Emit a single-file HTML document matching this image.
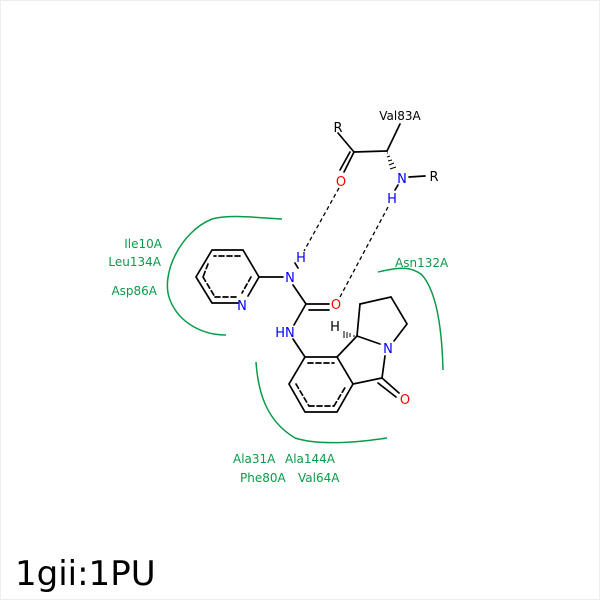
<!DOCTYPE html>
<html><head><style>
html,body{margin:0;padding:0;background:#fff}
svg{display:block}
text{font-family:"DejaVu Sans","Liberation Sans",sans-serif}
</style></head><body>
<svg width="600" height="600" viewBox="0 0 600 600" xmlns="http://www.w3.org/2000/svg">
<rect x="0.5" y="0.5" width="599" height="599" fill="#fff" stroke="#eee"/>
<g stroke="#000" stroke-width="1.7" fill="none" stroke-linecap="round">
<polyline points="259,277 243,250 212,250 196,277 212,303 238,303"/>
<line x1="259" y1="277" x2="248" y2="296"/>
<g stroke-dasharray="5,3">
<line x1="240" y1="256" x2="214" y2="256"/>
<line x1="208" y1="264" x2="203" y2="277"/>
<line x1="203" y1="277" x2="215" y2="297"/>
<line x1="215" y1="297" x2="236" y2="297"/>
<line x1="251" y1="277" x2="242" y2="293"/>
</g>
<line x1="259" y1="277" x2="283" y2="277"/>
<line x1="293" y1="285" x2="306" y2="304"/>
<line x1="295" y1="263" x2="298" y2="268"/>
<line x1="306" y1="304" x2="329" y2="304"/>
<line x1="309" y1="310" x2="329" y2="310"/>
<line x1="306" y1="304" x2="294" y2="325"/>
<line x1="293" y1="339" x2="305" y2="357"/>
<polygon points="305,357 337,357 353,384 337,412 305,412 289,384"/>
<g stroke-dasharray="5,3">
<line x1="308" y1="363" x2="334" y2="363"/>
<line x1="296" y1="384" x2="309" y2="406"/>
<line x1="309" y1="406" x2="334" y2="406"/>
<line x1="334" y1="406" x2="346" y2="386"/>
</g>
<line x1="337" y1="357" x2="357" y2="336"/>
<line x1="357" y1="336" x2="380" y2="344"/>
<line x1="353" y1="384" x2="382" y2="378"/>
<line x1="382" y1="378" x2="385" y2="356"/>
<line x1="382" y1="378" x2="399" y2="393"/>
<line x1="378" y1="383" x2="396" y2="397"/>
<line x1="357" y1="336" x2="360" y2="304"/>
<polyline points="360,304 391,297 407,324 394,341"/>
<line x1="338" y1="133" x2="354" y2="152"/>
<line x1="354" y1="152" x2="387" y2="151"/>
<line x1="387" y1="151" x2="400" y2="124"/>
<line x1="354" y1="152" x2="344" y2="172"/>
<line x1="350" y1="152" x2="340" y2="170"/>
<line x1="409" y1="177" x2="425" y2="176"/>
<line x1="398" y1="185" x2="395" y2="190"/>
</g>
<g stroke="#000" stroke-width="1">
<line x1="387" y1="153" x2="388" y2="153"/><line x1="387" y1="157" x2="390" y2="156"/><line x1="388" y1="161" x2="392" y2="160"/><line x1="389" y1="165" x2="394" y2="163"/><line x1="390" y1="169" x2="396" y2="167"/>
<line x1="354" y1="335" x2="354" y2="337"/><line x1="350" y1="333" x2="350" y2="337"/><line x1="347" y1="332" x2="347" y2="338"/><line x1="344" y1="331" x2="344" y2="338"/>
</g>
<g stroke="#000" stroke-width="1.3" stroke-dasharray="4,3">
<line x1="339" y1="188" x2="304" y2="251"/>
<line x1="388" y1="207" x2="340" y2="297"/>
</g>
<g stroke="#0a9a4a" stroke-width="1.5" fill="none">
<path d="M282,219 C260,218 230,214 212,219 C180,232 160,275 170,300 C180,325 205,335 226,335"/>
<path d="M378,272 C395,268 410,265 422,275 C437,292 442,330 443,370"/>
<path d="M256,362 C258,390 265,420 295,438 C320,446 360,442 387,438"/>
</g>
<g font-size="13" text-anchor="middle">
<text x="242" y="310" fill="#00f">N</text>
<text x="290" y="282" fill="#00f">N</text>
<text x="301" y="262" fill="#00f">H</text>
<text x="285" y="337" fill="#00f">HN</text>
<text x="336" y="309" fill="#f00">O</text>
<text x="388" y="353" fill="#00f">N</text>
<text x="405" y="404" fill="#f00">O</text>
<text x="335" y="331" fill="#000">H</text>
<text x="341" y="186" fill="#f00">O</text>
<text x="402" y="183" fill="#00f">N</text>
<text x="392" y="203" fill="#00f">H</text>
<text x="338" y="132" fill="#000">R</text>
<text x="434" y="181" fill="#000">R</text>
<text x="400" y="120" fill="#000" font-size="12">Val83A</text>
</g>
<g font-size="12" fill="#0a9a4a">
<text x="162" y="248" text-anchor="end">Ile10A</text>
<text x="161" y="266" text-anchor="end">Leu134A</text>
<text x="157" y="295" text-anchor="end">Asp86A</text>
<text x="395" y="267">Asn132A</text>
<text x="233" y="463">Ala31A</text>
<text x="285" y="463">Ala144A</text>
<text x="240" y="482">Phe80A</text>
<text x="298" y="482">Val64A</text>
</g>
<text x="15" y="585" font-size="34" fill="#000">1gii:1PU</text>
</svg>
</body></html>
